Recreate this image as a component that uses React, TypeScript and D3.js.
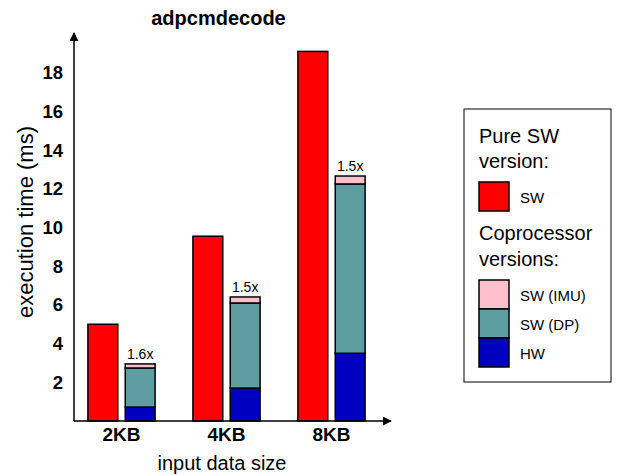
import React, { useRef, useEffect } from "react";
import * as d3 from "d3";

// data
const categories = ["2KB", "4KB", "8KB"];
const swTimes = [5.0, 9.55, 19.1];
const hwTimes = [0.72, 1.7, 3.5];
const dpTimes = [2.02, 4.4, 8.75];
const imuTimes = [0.21, 0.31, 0.41];
const speedups = ["1.6x", "1.5x", "1.5x"];
const yTicks = [2, 4, 6, 8, 10, 12, 14, 16, 18];

const colors = {
  sw: "#FF0000",
  imu: "#FFC0CB",
  dp: "#5F9EA0",
  hw: "#0000C0",
};
const font = "'Liberation Sans', Arial, Helvetica, sans-serif";

export default function App() {
  const ref = useRef<SVGSVGElement>(null);

  useEffect(() => {
    const width = 619;
    const height = 475;
    const svg = d3.select(ref.current);
    svg.selectAll("*").remove();
    svg.attr("width", width).attr("height", height).style("font-family", font);

    const baseY = 421;
    const axisX = 74;

    const y = d3.scaleLinear().domain([0, 20]).range([baseY, baseY - 387]);
    const x = d3.scaleBand<string>()
      .domain(categories)
      .range([69, 384])
      .paddingInner(0.36)
      .paddingOuter(0.18);
    const inner = d3.scaleBand<string>()
      .domain(["sw", "cop"])
      .range([0, x.bandwidth()])
      .paddingInner(0.2);

    svg.append("defs").append("marker")
      .attr("id", "arrow")
      .attr("viewBox", "0 0 10 10")
      .attr("refX", 9)
      .attr("refY", 5)
      .attr("markerWidth", 6)
      .attr("markerHeight", 6)
      .attr("orient", "auto")
      .append("path")
      .attr("d", "M0,0 L10,5 L0,10 Z")
      .attr("fill", "#000");

    // bars
    categories.forEach((c, i) => {
      const x0 = x(c)!;
      svg.append("rect")
        .attr("x", x0 + inner("sw")!)
        .attr("y", y(swTimes[i]))
        .attr("width", inner.bandwidth())
        .attr("height", y(0) - y(swTimes[i]))
        .attr("fill", colors.sw)
        .attr("stroke", "#000")
        .attr("stroke-width", 1.5);

      const stack = [
        { v: hwTimes[i], color: colors.hw },
        { v: dpTimes[i], color: colors.dp },
        { v: imuTimes[i], color: colors.imu },
      ];
      let acc = 0;
      stack.forEach((s) => {
        svg.append("rect")
          .attr("x", x0 + inner("cop")!)
          .attr("y", y(acc + s.v))
          .attr("width", inner.bandwidth())
          .attr("height", y(acc) - y(acc + s.v))
          .attr("fill", s.color)
          .attr("stroke", "#000")
          .attr("stroke-width", 1.5);
        acc += s.v;
      });

      svg.append("text")
        .attr("x", x0 + inner("cop")! + inner.bandwidth() / 2)
        .attr("y", y(acc) - 5)
        .attr("text-anchor", "middle")
        .attr("font-size", 14)
        .text(speedups[i]);

      svg.append("text")
        .attr("x", x0 + x.bandwidth() / 2)
        .attr("y", 441)
        .attr("text-anchor", "middle")
        .attr("font-size", 19)
        .attr("font-weight", "bold")
        .text(c);
    });

    // axes
    svg.append("line")
      .attr("x1", axisX).attr("y1", baseY)
      .attr("x2", axisX).attr("y2", 33)
      .attr("stroke", "#000").attr("stroke-width", 1.5)
      .attr("marker-end", "url(#arrow)");
    svg.append("line")
      .attr("x1", axisX).attr("y1", baseY)
      .attr("x2", 391).attr("y2", baseY)
      .attr("stroke", "#000").attr("stroke-width", 1.5)
      .attr("marker-end", "url(#arrow)");

    svg.selectAll("text.ytick")
      .data(yTicks)
      .join("text")
      .attr("class", "ytick")
      .attr("x", 63)
      .attr("y", (d) => y(d) + 6.5)
      .attr("text-anchor", "end")
      .attr("font-size", 18.5)
      .attr("font-weight", "bold")
      .text((d) => d);

    // titles
    svg.append("text")
      .attr("x", 218.5)
      .attr("y", 25)
      .attr("text-anchor", "middle")
      .attr("font-size", 20)
      .attr("font-weight", "bold")
      .text("adpcmdecode");
    svg.append("text")
      .attr("x", 222)
      .attr("y", 470)
      .attr("text-anchor", "middle")
      .attr("font-size", 20)
      .text("input data size");
    svg.append("text")
      .attr("transform", "translate(33,222) rotate(-90)")
      .attr("text-anchor", "middle")
      .attr("font-size", 22)
      .text("execution time (ms)");

    // legend
    const lg = svg.append("g");
    lg.append("rect")
      .attr("x", 464).attr("y", 109)
      .attr("width", 147).attr("height", 273)
      .attr("fill", "#fff").attr("stroke", "#000").attr("stroke-width", 1);
    const head = (t: string, yy: number) =>
      lg.append("text").attr("x", 479).attr("y", yy).attr("font-size", 20).text(t);
    head("Pure SW", 143);
    head("version:", 168);
    head("Coprocessor", 240);
    head("versions:", 266);
    const items = [
      { label: "SW", color: colors.sw, y: 182 },
      { label: "SW (IMU)", color: colors.imu, y: 280 },
      { label: "SW (DP)", color: colors.dp, y: 309 },
      { label: "HW", color: colors.hw, y: 338 },
    ];
    items.forEach((it) => {
      lg.append("rect")
        .attr("x", 479).attr("y", it.y)
        .attr("width", 30).attr("height", 29)
        .attr("fill", it.color).attr("stroke", "#000").attr("stroke-width", 1.5);
      lg.append("text")
        .attr("x", 520).attr("y", it.y + 21)
        .attr("font-size", 15)
        .text(it.label);
    });
  }, []);

  return <svg ref={ref} style={{ position: "absolute", left: 0, top: 0 }}></svg>;
}
